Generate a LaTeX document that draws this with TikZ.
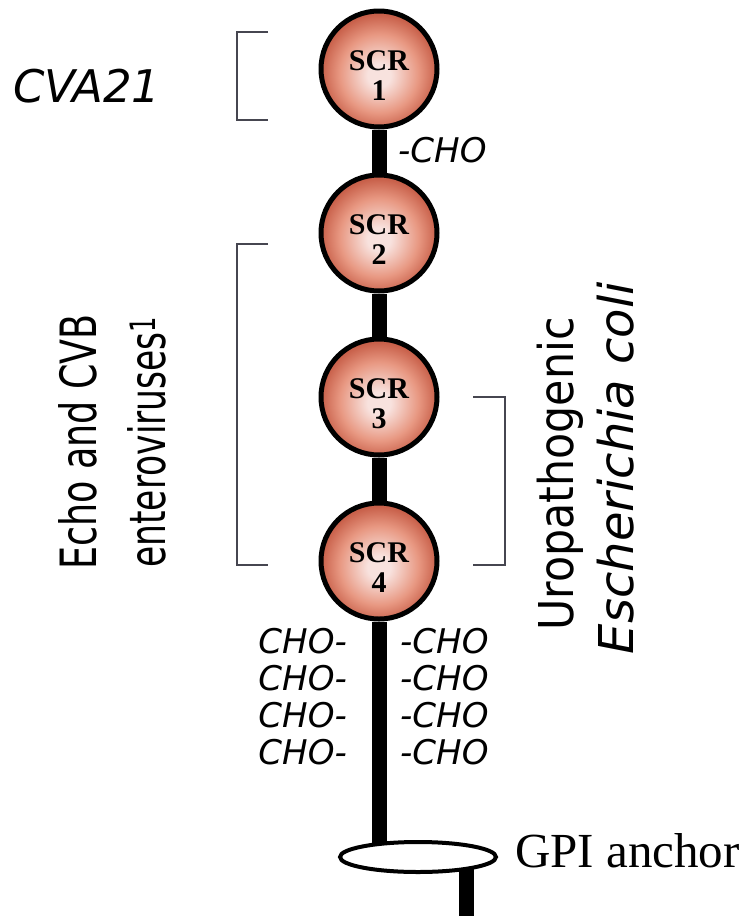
\documentclass[tikz,border=0pt]{standalone}
\usepackage{fontspec}
\setmainfont{Liberation Serif}
\newfontfamily\comic{DejaVu Sans}
\newfontfamily\comicA[FakeStretch=0.73]{DejaVu Sans}
\newfontfamily\comicB[FakeStretch=0.69]{DejaVu Sans}
\newfontfamily\comicC[FakeStretch=0.89]{DejaVu Sans}
\usetikzlibrary{shapes.geometric}
\definecolor{scrin}{RGB}{248,226,222}
\definecolor{scrmid}{RGB}{232,152,130}
\definecolor{scrout}{RGB}{200,96,74}
\definecolor{brk}{RGB}{70,70,80}
\pgfdeclareradialshading{scrball}{\pgfpoint{0bp}{-3bp}}{color(0bp)=(scrin); color(5bp)=(scrin); color(17bp)=(scrmid); color(25bp)=(scrout); color(50bp)=(scrout)}
\tikzset{
  scr/.style={circle, draw=black, line width=5pt, minimum size=116pt, inner sep=0pt, shade, shading=scrball},
  scrtxt/.style={font=\fontsize{30}{30}\selectfont\bfseries, align=center, inner sep=0pt},
  stem/.style={draw=black, line width=15pt},
  brack/.style={draw=brk, line width=2pt},
  cho/.style={font=\comic\itshape\fontsize{34}{34}\selectfont, inner sep=0pt},
  rottxt/.style={rotate=90, anchor=base, inner sep=0pt},
  gpishape/.style={ellipse, draw=black, line width=4pt, fill=white, minimum width=156pt, minimum height=30pt, inner sep=0pt}
}
\begin{document}
\begin{tikzpicture}[x=1pt,y=-1pt]
\useasboundingbox[fill=white] (0,0) rectangle (744,916);
% SCR domains
\node[scr] (scr1) at (379,69) {};
\node[scr] (scr2) at (379,233) {};
\node[scr] (scr3) at (379,397) {};
\node[scr] (scr4) at (379,561) {};
% stem
\coordinate (gc) at (418,857);
\coordinate (botc) at (466,916);
\draw[stem] (scr1) -- (scr2);
\draw[stem] (scr2) -- (scr3);
\draw[stem] (scr3) -- (scr4);
\draw[stem] (scr4) -- (scr4 |- gc);
\draw[stem] (gc -| botc) -- (botc);
\node[gpishape] (gpi) at (gc) {};
% SCR labels
\node[scrtxt] (t1) at ([yshift=-7pt]scr1.center) {SCR\\1};
\node[scrtxt] (t2) at ([yshift=-7pt]scr2.center) {SCR\\2};
\node[scrtxt] (t3) at ([yshift=-7pt]scr3.center) {SCR\\3};
\node[scrtxt] (t4) at ([yshift=-7pt]scr4.center) {SCR\\4};
% CHO labels
\node[cho, anchor=base west] (c0) at (398,162) {-CHO};
\foreach \i/\y in {1/653,2/690,3/727,4/764}{
  \node[cho, anchor=base east] (cl\i) at (347,\y) {CHO-};
  \node[cho, anchor=base west] (cr\i) at (400,\y) {-CHO};
}
% GPI
\node[anchor=base west, inner sep=0pt, font=\fontsize{49}{49}\selectfont] (gpitxt) at (515,867) {GPI anchor};
% brackets
\draw[brack] (268,32) -- (237,32) -- (237,120) -- (268,120);
\draw[brack] (268,244) -- (237,244) -- (237,565) -- (268,565);
\draw[brack] (473,397) -- (505,397) -- (505,565) -- (473,565);
% side labels
\node[anchor=base west, inner sep=0pt, font=\comic\itshape\fontsize{45}{45}\selectfont] (cva) at (13,102) {CVA21};
\node[rottxt, font=\comicA\fontsize{50}{50}\selectfont] (echo1) at (96,442) {Echo and CVB};
\node[rottxt, font=\comicB\fontsize{50}{50}\selectfont] (echo2) at (165,442) {enteroviruses\textsuperscript{1}};
\node[rottxt, font=\comicC\fontsize{48}{48}\selectfont] (uro1) at (573,474) {Uropathogenic};
\node[rottxt, font=\comic\itshape\fontsize{48}{48}\selectfont] (uro2) at (633,468) {Escherichia coli};
\end{tikzpicture}
\end{document}
